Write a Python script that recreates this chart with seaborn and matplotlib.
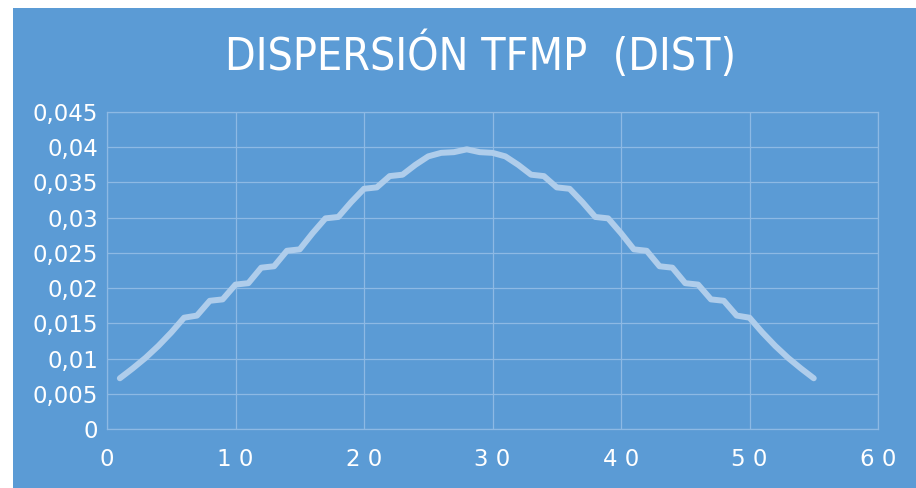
"""Recreate the DISPERSIÓN TFMP (DIST) line chart."""
import matplotlib
matplotlib.use("Agg")
import matplotlib.pyplot as plt
import matplotlib.patches as mpatches
import pandas as pd
import seaborn as sns

# data
dist = list(range(1, 56))
dispersion = [
    0.0072, 0.0086, 0.0101, 0.0118, 0.0137, 0.0158, 0.0161, 0.0182, 0.0184, 0.0205,
    0.0207, 0.0229, 0.0231, 0.0253, 0.0255, 0.0278, 0.0299, 0.0301, 0.0322, 0.0341,
    0.0343, 0.0359, 0.0361, 0.0375, 0.0387, 0.0392, 0.0393, 0.0397, 0.0393, 0.0392,
    0.0387, 0.0375, 0.0361, 0.0359, 0.0343, 0.0341, 0.0322, 0.0301, 0.0299, 0.0278,
    0.0255, 0.0253, 0.0231, 0.0229, 0.0207, 0.0205, 0.0184, 0.0182, 0.0161, 0.0158,
    0.0137, 0.0118, 0.0101, 0.0086, 0.0072,
]
x_ticks = [0, 10, 20, 30, 40, 50, 60]
x_labels = ["0", "1 0", "2 0", "3 0", "4 0", "5 0", "6 0"]
y_ticks = [0, 0.005, 0.01, 0.015, 0.02, 0.025, 0.03, 0.035, 0.04, 0.045]
y_labels = ["0", "0,005", "0,01", "0,015", "0,02", "0,025", "0,03", "0,035", "0,04", "0,045"]
title = "DISPERSIÓN TFMP  (DIST)"

BG = "#5B9BD5"
GRID = "#8DB9E4"
LINE = "#AFCDEB"

sns.set_theme(style="white")
plt.rcParams["font.family"] = ["DejaVu Sans"]

W, H = 916, 488
fig = plt.figure(figsize=(W / 100, H / 100), dpi=100, facecolor="white")
fig.patches.append(mpatches.Rectangle((13 / W, 0), 1 - 13 / W, 1 - 8 / H,
                                      transform=fig.transFigure, facecolor=BG,
                                      edgecolor="none", zorder=-10))

ax = fig.add_axes([107 / W, (H - 429) / H, (878 - 107) / W, (429 - 112) / H])
ax.set_zorder(1)
ax.set_facecolor(BG)

df = pd.DataFrame({"dist": dist, "dispersion": dispersion})
sns.lineplot(data=df, x="dist", y="dispersion", ax=ax, color=LINE, linewidth=4.3,
             solid_joinstyle="round", solid_capstyle="round", zorder=3)

ax.set_xlim(0, 60)
ax.set_ylim(0, 0.045)
ax.set_xticks(x_ticks)
ax.set_xticklabels(x_labels)
ax.set_yticks(y_ticks)
ax.set_yticklabels(y_labels)
ax.grid(True, color=GRID, linewidth=0.9)
ax.set_axisbelow(True)
for sp in ax.spines.values():
    sp.set_color(GRID)
    sp.set_linewidth(0.9)
ax.tick_params(axis="both", colors="white", labelsize=16.5, length=0)
ax.tick_params(axis="x", pad=14)
ax.tick_params(axis="y", pad=6.5)
ax.set_xlabel("")
ax.set_ylabel("")

fig.text(481 / W, 1 - 55 / H, title, color="white", fontsize=32,
         fontstretch="condensed", ha="center", va="center")

fig.savefig("out.png", dpi=100, facecolor=fig.get_facecolor())
plt.close(fig)
